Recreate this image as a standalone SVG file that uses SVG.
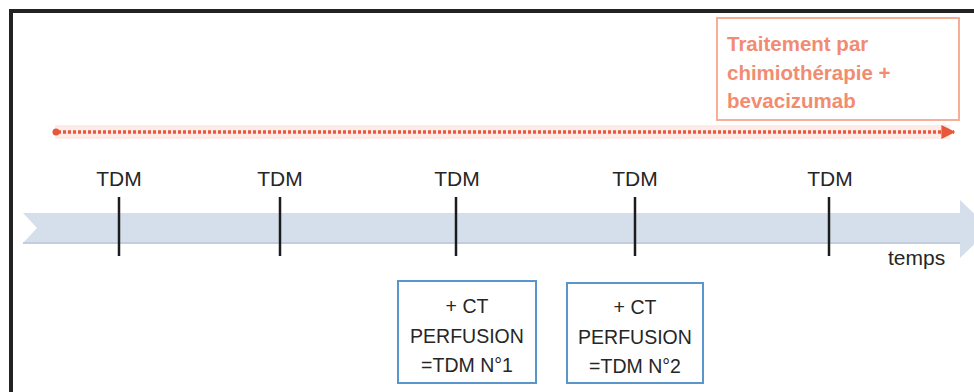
<svg xmlns="http://www.w3.org/2000/svg" width="974" height="392" viewBox="0 0 974 392">
<style>
.t{font-family:"Liberation Sans",Arial,sans-serif;fill:#262626;text-anchor:middle}
.tdm{font-size:21px}
.bx{font-size:19.5px}
.tick{stroke:#1c1c1c;stroke-width:2.5}
.box{fill:#fff;stroke:#5a96cc;stroke-width:2}
.or{font-family:"Liberation Sans",Arial,sans-serif;font-size:20.5px;fill:#f28c70;font-weight:bold}
</style>
<defs>
<marker id="ah" viewBox="0 0 10 10" refX="9" refY="5" markerWidth="4" markerHeight="4" orient="auto" markerUnits="strokeWidth">
<path d="M0,0 L10,5 L0,10 z" fill="#e9573b"/>
</marker>
</defs>
<rect width="974" height="392" fill="#fff"/>
<rect x="11" y="11" width="990" height="420" fill="none" stroke="#232323" stroke-width="4"/>
<g id="treatment">
<rect x="717" y="18" width="242" height="102" fill="#fff" stroke="#f7ad96" stroke-width="2"/>
<text class="or" x="727" y="51">Traitement par</text>
<text class="or" x="727" y="80">chimiothérapie +</text>
<text class="or" x="727" y="108">bevacizumab</text>
</g>
<g id="connectors">
<line x1="55" y1="132" x2="950" y2="132" stroke="#f9c8b8" stroke-width="14" opacity="0.35"/>
<line x1="58" y1="132" x2="954" y2="132" stroke="#e9573b" stroke-width="3.5" stroke-dasharray="3 2" marker-end="url(#ah)"/>
<circle cx="56" cy="132" r="3.5" fill="#e9573b"/>
</g>
<g id="timeline">
<path d="M23,213 L960,213 L960,200 L990,229 L960,258 L960,243 L23,243 L37,228 Z" fill="#d5dfeb"/>
<line x1="23" y1="243" x2="960" y2="243" stroke="#c2cee0" stroke-width="2"/>
<text class="t" x="888" y="265" style="font-size:21px;text-anchor:start">temps</text>
</g>
<g id="tdm1"><text class="t tdm" x="119" y="186">TDM</text><line class="tick" x1="119" y1="197" x2="119" y2="256"/></g>
<g id="tdm2"><text class="t tdm" x="280" y="186">TDM</text><line class="tick" x1="280" y1="197" x2="280" y2="256"/></g>
<g id="tdm3"><text class="t tdm" x="457" y="186">TDM</text><line class="tick" x1="456" y1="197" x2="456" y2="256"/></g>
<g id="tdm4"><text class="t tdm" x="635" y="186">TDM</text><line class="tick" x1="635" y1="197" x2="635" y2="256"/></g>
<g id="tdm5"><text class="t tdm" x="830" y="186">TDM</text><line class="tick" x1="829" y1="197" x2="829" y2="256"/></g>
<g id="ct1">
<rect class="box" x="398" y="281" width="138" height="102"/>
<text class="t bx" x="467" y="313">+ CT</text>
<text class="t bx" x="467" y="343">PERFUSION</text>
<text class="t bx" x="467" y="372">=TDM N°1</text>
</g>
<g id="ct2">
<rect class="box" x="567" y="283" width="136" height="100"/>
<text class="t bx" x="635" y="314">+ CT</text>
<text class="t bx" x="635" y="344">PERFUSION</text>
<text class="t bx" x="635" y="373">=TDM N°2</text>
</g>
</svg>
